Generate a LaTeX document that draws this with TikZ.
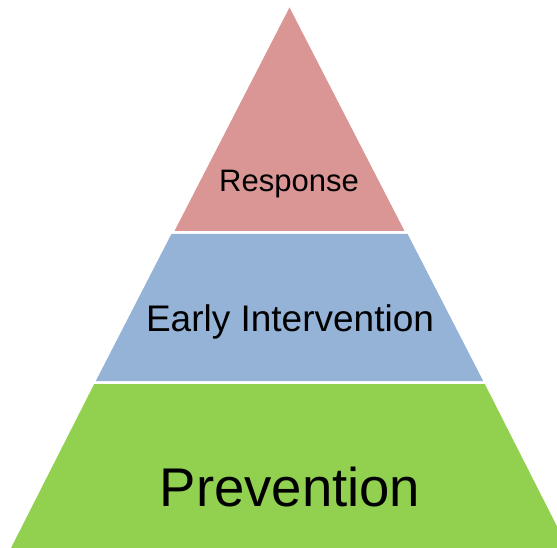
\documentclass[tikz,border=0pt]{standalone}
\usepackage{fontspec}
\setmainfont{Liberation Sans}
\definecolor{resp}{HTML}{D99694}
\definecolor{early}{HTML}{95B3D7}
\definecolor{prev}{HTML}{92D050}
\begin{document}
\begin{tikzpicture}[x=1pt,y=-1pt,
  band/.style={draw=none},
  lbl/.style={anchor=base,inner sep=0pt,text=black}]
\useasboundingbox (0,0) rectangle (557,548);
\clip (0,0) rectangle (557,548);
% half-width w(y) = 0.5145*(y-7.5), apex at x=289.5
\fill[band,resp] (289.5,7.5) -- (404.5,231) -- (174.5,231) -- cycle;
\fill[band,early] (171.4,234) -- (407.6,234) -- (483.2,381) -- (95.8,381) -- cycle;
\fill[band,prev] (94.2,384) -- (484.8,384) -- (569,550) -- (10,550) -- cycle;
\node[lbl,font=\fontsize{31}{37}\selectfont] (r) at (289,191.7) {Response};
\node[lbl,font=\fontsize{37}{44}\selectfont] (e) at (290,331.7) {Early Intervention};
\node[lbl,font=\fontsize{54.5}{64}\selectfont] (p) at (290,506.7) {Prevention};
\end{tikzpicture}
\end{document}
